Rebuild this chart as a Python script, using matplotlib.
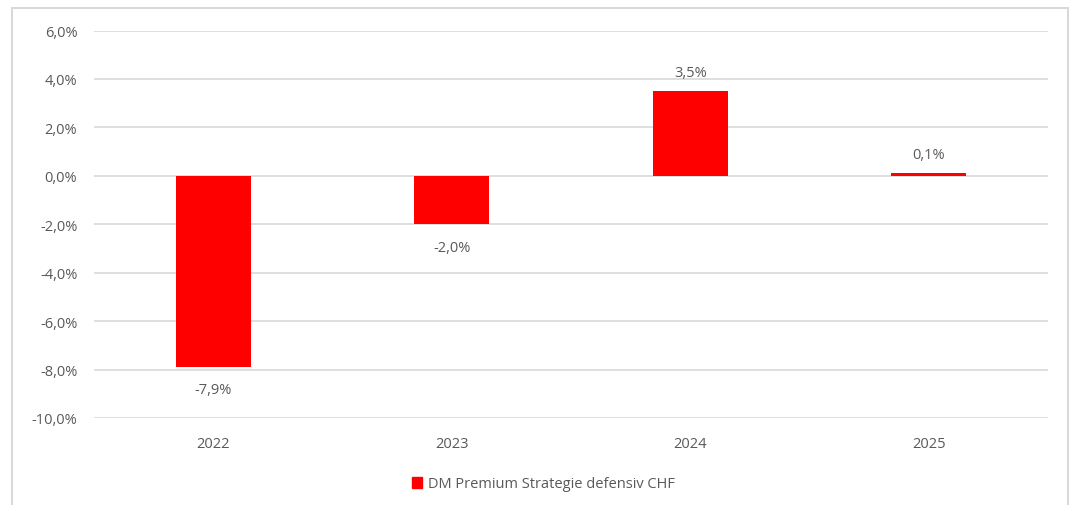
import matplotlib.pyplot as plt
import matplotlib.patches as mpatches
import numpy as np

years = ['2022', '2023', '2024', '2025']
returns = [-7.9, -2.0, 3.5, 0.1]
series_name = 'DM Premium Strategie defensiv CHF'
yticks = np.arange(-10, 7, 2)

W, H = 1072, 506
plt.rcParams['font.family'] = ['Open Sans', 'DejaVu Sans']
grey = '#595959'
red = '#FF0000'
fs = 10.5

fig = plt.figure(figsize=(W / 100, H / 100), dpi=100)
ax = fig.add_axes([94 / W, 1 - 419 / H, (1048 - 94) / W, (419 - 31.5) / H])

idx = np.arange(len(years))
ax.bar(idx, returns, 0.315, color=red, zorder=3)
ax.set_xlim(-0.5, len(years) - 0.5)
ax.set_ylim(-10, 6)
ax.set_yticks(yticks)
ax.set_yticklabels(['{:.1f}%'.format(v).replace('.', ',') for v in yticks])
ax.set_xticks(idx)
ax.set_xticklabels(years)
ax.tick_params(length=0, colors=grey, labelsize=fs)
ax.tick_params(axis='x', pad=13)
ax.tick_params(axis='y', pad=12)
ax.grid(axis='y', color='#D9D9D9', linewidth=1.2, zorder=0)
for s in ax.spines.values():
    s.set_visible(False)

for i, v in enumerate(returns):
    txt = '{:.1f}%'.format(v).replace('.', ',')
    off = 8 if v >= 0 else -11
    ax.annotate(txt, (i, v), xytext=(0, off), textcoords='offset points',
                ha='center', va='bottom' if v >= 0 else 'top',
                color=grey, fontsize=fs)

# outer frame
fig.patches.append(mpatches.Rectangle((12 / W, -0.1), (1068 - 12) / W, 1.1 - 9 / H,
                                      transform=fig.transFigure, fill=False,
                                      edgecolor='#D9D9D9', linewidth=1.5))

handle = mpatches.Patch(color=red, label=series_name)
fig.legend(handles=[handle], loc='center', bbox_to_anchor=(543 / W, 1 - 485 / H),
           frameon=False, fontsize=fs, labelcolor=grey, handlelength=0.7,
           handleheight=0.7, handletextpad=0.4)

fig.savefig('out.png', dpi=100)
